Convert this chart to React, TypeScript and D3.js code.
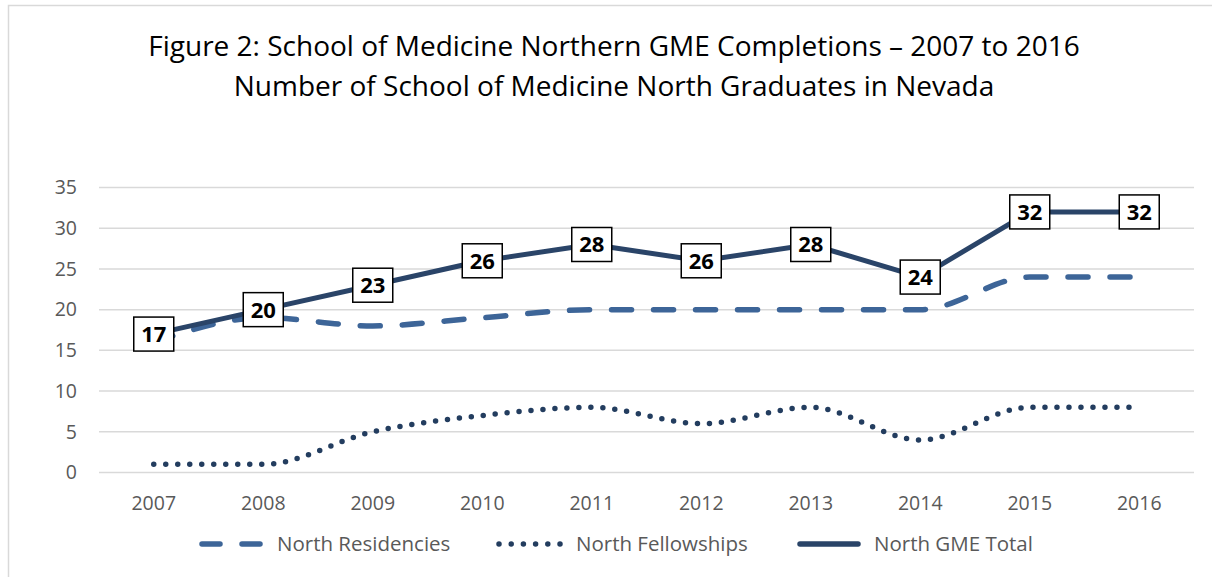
import React from 'react';
import * as d3 from 'd3';

const years = ['2007', '2008', '2009', '2010', '2011', '2012', '2013', '2014', '2015', '2016'];
const residencies = [16, 19, 18, 19, 20, 20, 20, 20, 24, 24];
const fellowships = [1, 1, 5, 7, 8, 6, 8, 4, 8, 8];
const totals = [17, 20, 23, 26, 28, 26, 28, 24, 32, 32];
const yTicks = [0, 5, 10, 15, 20, 25, 30, 35];

const width = 1212;
const height = 577;
const font = "'Open Sans', 'Noto Sans', sans-serif";

export default function App() {
  const x = d3.scalePoint<string>().domain(years).range([99, 1194]).padding(0.5);
  const y = d3.scaleLinear().domain([0, 35]).range([472.5, 187.5]);

  const smooth = d3
    .line<number>()
    .x((_, i) => x(years[i]) as number)
    .y((d) => y(d))
    .curve(d3.curveMonotoneX);
  const straight = d3
    .line<number>()
    .x((_, i) => x(years[i]) as number)
    .y((d) => y(d));

  const resColor = '#3d6598';
  const felColor = '#233d5f';
  const totColor = '#2a4468';

  return (
    <svg width={width} height={height} style={{ position: 'absolute', left: 0, top: 0 }}>
      <rect x={0} y={0} width={width} height={height} fill="#fff" />
      <rect x={8.5} y={5.5} width={1215} height={590} fill="none" stroke="#d9d9d9" strokeWidth={1.5} />

      <text x={614} y={56} textAnchor="middle" fontFamily={font} fontSize={28} fill="#000">
        Figure 2: School of Medicine Northern GME Completions – 2007 to 2016
      </text>
      <text x={614} y={96} textAnchor="middle" fontFamily={font} fontSize={28} fill="#000">
        Number of School of Medicine North Graduates in Nevada
      </text>

      {yTicks.map((t) => (
        <g key={t}>
          <line x1={99} x2={1194} y1={y(t)} y2={y(t)} stroke="#d9d9d9" strokeWidth={1.5} />
          <text x={77} y={y(t)} dy="0.35em" textAnchor="end" fontFamily={font} fontSize={19.5} fill="#595959">
            {t}
          </text>
        </g>
      ))}

      {years.map((yr) => (
        <text key={yr} x={x(yr)} y={503} dy="0.35em" textAnchor="middle" fontFamily={font} fontSize={19.5} fill="#595959">
          {yr}
        </text>
      ))}

      <path d={smooth(residencies) || ''} fill="none" stroke={resColor} strokeWidth={5.5} strokeDasharray="20 22" strokeLinecap="round" />
      <path d={smooth(fellowships) || ''} fill="none" stroke={felColor} strokeWidth={5.5} strokeDasharray="0 12" strokeLinecap="round" />
      <path d={straight(totals) || ''} fill="none" stroke={totColor} strokeWidth={5} strokeLinejoin="round" />

      {totals.map((v, i) => (
        <g key={i} transform={`translate(${x(years[i])},${y(v)})`}>
          <rect x={-20} y={-17} width={40} height={34} fill="#fff" stroke="#000" strokeWidth={1.5} />
          <text x={0} y={0} dy="0.36em" textAnchor="middle" fontFamily={font} fontWeight="bold" fontSize={22} fill="#000">
            {v}
          </text>
        </g>
      ))}

      {/* legend */}
      <g fontFamily={font} fontSize={20.5} fill="#595959">
        <line x1={202} x2={262} y1={544} y2={544} stroke={resColor} strokeWidth={5.5} strokeDasharray="18 22" strokeLinecap="round" />
        <text x={277} y={544} dy="0.35em">North Residencies</text>
        <line x1={499} x2={560} y1={544} y2={544} stroke={felColor} strokeWidth={5.5} strokeDasharray="0 12.2" strokeLinecap="round" />
        <text x={576} y={544} dy="0.35em">North Fellowships</text>
        <line x1={800} x2={858} y1={544} y2={544} stroke={totColor} strokeWidth={5.5} strokeLinecap="round" />
        <text x={874} y={544} dy="0.35em">North GME Total</text>
      </g>
    </svg>
  );
}
